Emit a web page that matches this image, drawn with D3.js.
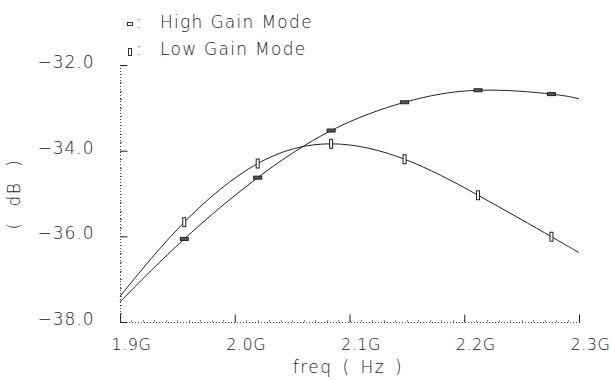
<!DOCTYPE html>
<html>
<head>
<meta charset="utf-8">
<script src="https://cdn.jsdelivr.net/npm/d3@7"></script>
<style>
  body { margin: 0; background: #fff; }
  text { font-family: "DejaVu Sans", sans-serif; font-weight: 200; fill: #222; }
</style>
</head>
<body>
<div id="chart"></div>
<script>
// Data
const freqs = [1.9, 1.956, 2.020, 2.084, 2.148, 2.212, 2.276, 2.3];
const highGain = [-37.53, -36.06, -34.63, -33.53, -32.87, -32.59, -32.68, -32.79];
const lowGain = [-37.40, -35.67, -34.30, -33.84, -34.20, -35.04, -36.01, -36.38];
// markers sit on the inner points only
const markerFreqs = [1.956, 2.020, 2.084, 2.148, 2.212, 2.276];

const xTicks = [1.9, 2.0, 2.1, 2.2, 2.3];
const xTickLabels = ["1.9G", "2.0G", "2.1G", "2.2G", "2.3G"];
const yTicks = [-38, -36, -34, -32];
const yTickLabels = ["\u221238.0", "\u221236.0", "\u221234.0", "\u221232.0"];

const width = 610;
const height = 380;

const svg = d3.select("#chart")
    .append("svg")
    .attr("width", width)
    .attr("height", height);

const x = d3.scaleLinear().domain([1.9, 2.3]).range([120, 579]);
const y = d3.scaleLinear().domain([-38, -32]).range([322, 65]);

// Minor ticks
const yMinor = d3.range(-38, -31.99, 0.2);
const xMinor = d3.range(1.9, 2.3001, 0.01);

svg.append("g")
    .selectAll("line")
    .data(yMinor)
    .join("line")
    .attr("x1", 120).attr("x2", 122)
    .attr("y1", d => Math.round(y(d)) + 0.5)
    .attr("y2", d => Math.round(y(d)) + 0.5)
    .attr("stroke", "#666").attr("stroke-width", 1);

svg.append("g")
    .selectAll("line")
    .data(xMinor)
    .join("line")
    .attr("x1", d => Math.round(x(d)) + 0.5)
    .attr("x2", d => Math.round(x(d)) + 0.5)
    .attr("y1", 322).attr("y2", 320)
    .attr("stroke", "#888").attr("stroke-width", 1);

// Dotted axis lines
svg.append("line")
    .attr("x1", 120.5).attr("x2", 120.5)
    .attr("y1", 65).attr("y2", 322)
    .attr("stroke", "#444").attr("stroke-dasharray", "1,2");
svg.append("line")
    .attr("x1", 120).attr("x2", 580)
    .attr("y1", 322.5).attr("y2", 322.5)
    .attr("stroke", "#444").attr("stroke-dasharray", "1,2");

// Y axis
const yAxis = d3.axisLeft(y)
    .tickValues(yTicks)
    .tickSize(-7)
    .tickPadding(26)
    .tickFormat((d, i) => yTickLabels[i]);

const yAxisGroup = svg.append("g")
    .attr("transform", "translate(120.5,0)")
    .call(yAxis);
yAxisGroup.select(".domain").remove();
yAxisGroup.selectAll(".tick line").attr("stroke", "#222");
yAxisGroup.selectAll(".tick text")
    .attr("dy", "0.15em")
    .style("font-size", "17px")
    .style("letter-spacing", "1px")
    .style("font-family", "DejaVu Sans")
    .style("font-weight", 200)
    .attr("fill", "#222");

// X axis
const xAxis = d3.axisBottom(x)
    .tickValues(xTicks)
    .tickSize(-8)
    .tickPadding(16)
    .tickFormat((d, i) => xTickLabels[i]);

const xAxisGroup = svg.append("g")
    .attr("transform", "translate(0,322.5)")
    .call(xAxis);
xAxisGroup.select(".domain").remove();
xAxisGroup.selectAll(".tick line").attr("stroke", "#222");
xAxisGroup.selectAll(".tick text")
    .attr("dx", 11)
    .style("font-size", "16px")
    .style("letter-spacing", "0.5px")
    .style("font-family", "DejaVu Sans")
    .style("font-weight", 200)
    .attr("fill", "#222");

// Axis titles
svg.append("text")
    .attr("x", 348)
    .attr("y", 373)
    .attr("text-anchor", "middle")
    .style("font-size", "17px")
    .style("letter-spacing", "1.5px")
    .style("word-spacing", "3px")
    .text("freq ( Hz )");

svg.append("text")
    .attr("transform", "translate(20,194) rotate(-90)")
    .attr("text-anchor", "middle")
    .style("font-size", "17px")
    .style("letter-spacing", "1.5px")
    .style("word-spacing", "8px")
    .text("( dB )");

// Curves
const line = d3.line()
    .x(d => x(d[0]))
    .y(d => y(d[1]))
    .curve(d3.curveNatural);

const highData = freqs.map((f, i) => [f, highGain[i]]);
const lowData = freqs.map((f, i) => [f, lowGain[i]]);

svg.append("path")
    .datum(highData)
    .attr("fill", "none")
    .attr("stroke", "#222")
    .attr("stroke-width", 1)
    .attr("d", line);

svg.append("path")
    .datum(lowData)
    .attr("fill", "none")
    .attr("stroke", "#222")
    .attr("stroke-width", 1)
    .attr("d", line);

// Markers
const highMarkers = highData.filter(d => markerFreqs.includes(d[0]));
const lowMarkers = lowData.filter(d => markerFreqs.includes(d[0]));

svg.append("g")
    .selectAll("rect")
    .data(highMarkers)
    .join("rect")
    .attr("x", d => x(d[0]) - 4)
    .attr("y", d => y(d[1]) - 1.5)
    .attr("width", 8)
    .attr("height", 3)
    .attr("fill", "#555")
    .attr("stroke", "#222")
    .attr("stroke-width", 1);

svg.append("g")
    .selectAll("rect")
    .data(lowMarkers)
    .join("rect")
    .attr("x", d => x(d[0]) - 1.5)
    .attr("y", d => y(d[1]) - 4.5)
    .attr("width", 3)
    .attr("height", 9)
    .attr("fill", "#fff")
    .attr("stroke", "#222")
    .attr("stroke-width", 1);

// Legend
svg.append("rect")
    .attr("x", 127.5).attr("y", 22.5)
    .attr("width", 5).attr("height", 3)
    .attr("fill", "#fff").attr("stroke", "#333");
svg.append("text")
    .attr("x", 136).attr("y", 28)
    .style("font-size", "17px")
    .text(":");
svg.append("text")
    .attr("x", 160).attr("y", 28)
    .style("font-size", "17px")
    .style("letter-spacing", "1.3px")
    .text("High Gain Mode");

svg.append("rect")
    .attr("x", 128.5).attr("y", 48.5)
    .attr("width", 3).attr("height", 7)
    .attr("fill", "#fff").attr("stroke", "#333");
svg.append("text")
    .attr("x", 136).attr("y", 55)
    .style("font-size", "17px")
    .text(":");
svg.append("text")
    .attr("x", 160).attr("y", 55)
    .style("font-size", "17px")
    .style("letter-spacing", "1.3px")
    .text("Low Gain Mode");
</script>
</body>
</html>
